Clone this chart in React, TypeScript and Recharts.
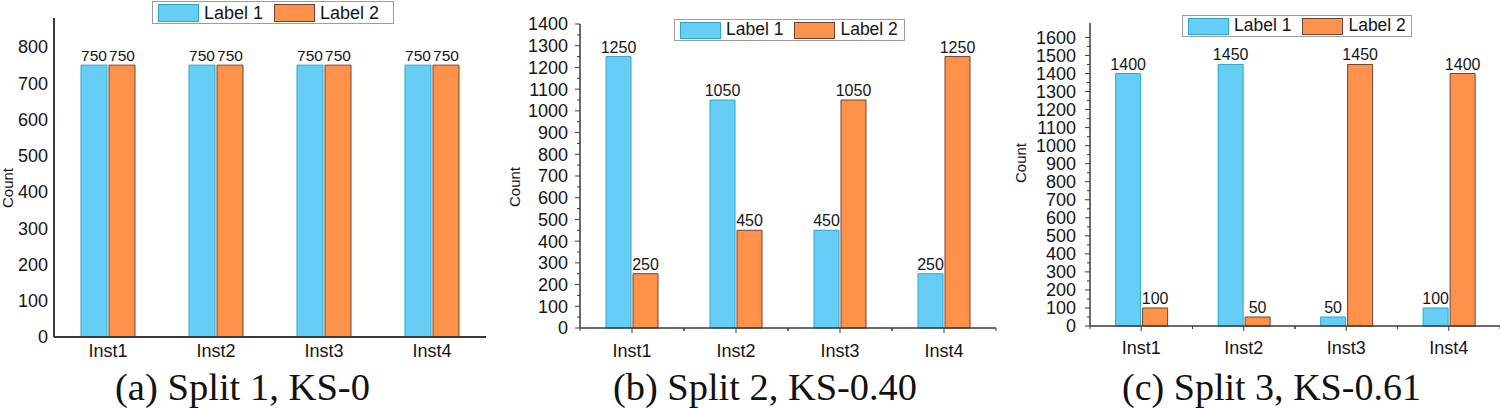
import React from 'react';
import { BarChart, Bar, XAxis, YAxis, Legend, LabelList } from 'recharts';

// ---------- data ----------
const categories = ['Inst1', 'Inst2', 'Inst3', 'Inst4'];
const seriesNames = ['Label 1', 'Label 2'];

const split1Label1 = [750, 750, 750, 750];
const split1Label2 = [750, 750, 750, 750];
const split2Label1 = [1250, 1050, 450, 250];
const split2Label2 = [250, 450, 1050, 1250];
const split3Label1 = [1400, 1450, 50, 100];
const split3Label2 = [100, 50, 1450, 1400];

const split1Ticks = [0, 100, 200, 300, 400, 500, 600, 700, 800];
const split2Ticks = [0, 50, 100, 150, 200, 250, 300, 350, 400, 450, 500, 550, 600, 650, 700, 750, 800, 850, 900, 950, 1000, 1050, 1100, 1150, 1200, 1250, 1300, 1350, 1400];
const split3Ticks = [0, 50, 100, 150, 200, 250, 300, 350, 400, 450, 500, 550, 600, 650, 700, 750, 800, 850, 900, 950, 1000, 1050, 1100, 1150, 1200, 1250, 1300, 1350, 1400, 1450, 1500, 1550, 1600];

const captions = ['(a) Split 1, KS-0', '(b) Split 2, KS-0.40', '(c) Split 3, KS-0.61'];
const yAxisTitle = 'Count';

// ---------- styles ----------
const BLUE = '#66CEF6';
const BLUE_EDGE = '#2FA6C2';
const ORANGE = '#FF914A';
const ORANGE_EDGE = '#6A4633';
const AXIS = '#3a3a3a';
const TEXT = '#151515';
const SANS = '"Liberation Sans", Arial, Helvetica, sans-serif';

const buildRows = (a: number[], b: number[]) =>
  categories.map((c, i) => ({ name: c, l1: a[i], l2: b[i] }));

const panels = [
  {
    rows: buildRows(split1Label1, split1Label2),
    ticks: split1Ticks, domain: [0, 880],
    left: 0, width: 490, yWidth: 54,
    margin: { top: 18, right: 4, left: 0, bottom: 41 },
    minor: false, yGap: 6, xTextOffset: 7, valueFont: 15.5, axisW: 2,
    legend: { left: 152, top: 1, w: 242, h: 23, font: 18 },
    title: { x: 8, y: 188 },
    caption: { x: 242.5, w: 255 },
  },
  {
    rows: buildRows(split2Label1, split2Label2),
    ticks: split2Ticks, domain: [0, 1400],
    left: 500, width: 500, yWidth: 80,
    margin: { top: 24, right: 4, left: 0, bottom: 50 },
    minor: true, yGap: 12, xTextOffset: 16, valueFont: 16, axisW: 1.5,
    legend: { left: 174, top: 19, w: 231, h: 22, font: 17.5 },
    title: { x: 15, y: 187 },
    caption: { x: 765, w: 304 },
  },
  {
    rows: buildRows(split3Label1, split3Label2),
    ticks: split3Ticks, domain: [0, 1680],
    left: 1000, width: 500, yWidth: 90,
    margin: { top: 23, right: 0, left: 0, bottom: 52 },
    minor: true, yGap: 14, xTextOffset: 15, valueFont: 16, axisW: 1.5,
    legend: { left: 182, top: 15, w: 230, h: 22, font: 17.5 },
    title: { x: 21, y: 163 },
    caption: { x: 1271.5, w: 299 },
  },
];

const YTick = (props: any) => {
  const { x, y, payload, minor, gap } = props;
  const v = payload.value as number;
  const major = v % 100 === 0;
  return (
    <g>
      {minor && <line x1={x - (major ? 5 : 3)} x2={x} y1={y} y2={y} stroke={AXIS} strokeWidth={1} />}
      {major && (
        <text x={x - gap} y={y} dy="0.355em" textAnchor="end" fontSize={18} fill={TEXT} fontFamily={SANS}>
          {v}
        </text>
      )}
    </g>
  );
};

const XTick = (props: any) => {
  const { x, y, payload, minor, textOffset, halfBand } = props;
  return (
    <g>
      {minor && (
        <>
          <line x1={x} x2={x} y1={y} y2={y + 5} stroke={AXIS} strokeWidth={1} />
          <line x1={x - halfBand} x2={x - halfBand} y1={y} y2={y + 3} stroke={AXIS} strokeWidth={1} />
          <line x1={x + halfBand} x2={x + halfBand} y1={y} y2={y + 3} stroke={AXIS} strokeWidth={1} />
        </>
      )}
      <text x={x} y={y + textOffset} dy="0.71em" textAnchor="middle" fontSize={18} fill={TEXT} fontFamily={SANS}>
        {payload.value}
      </text>
    </g>
  );
};

const LegendBox = ({ payload, cfg }: any) => {
  const edges = [BLUE_EDGE, ORANGE_EDGE];
  return (
    <div
      style={{
        display: 'flex', alignItems: 'center', boxSizing: 'border-box',
        width: cfg.w, height: cfg.h, border: '1px solid #9c9c9c', background: '#fff',
        padding: '0 5px', fontFamily: SANS, fontSize: cfg.font, color: TEXT, lineHeight: 1,
      }}
    >
      {(payload || []).map((p: any, i: number) => (
        <div key={i} style={{ display: 'flex', alignItems: 'center', marginRight: i === 0 ? 11 : 0 }}>
          <div
            style={{
              width: 41, height: cfg.h - 5, boxSizing: 'border-box',
              background: p.color, border: `1.5px solid ${edges[i]}`,
            }}
          />
          <span style={{ marginLeft: 5 }}>{p.value}</span>
        </div>
      ))}
    </div>
  );
};

const Panel = ({ cfg }: any) => {
  const plotW = cfg.width - cfg.yWidth - cfg.margin.left - cfg.margin.right;
  const halfBand = plotW / categories.length / 2;
  return (
    <div style={{ position: 'absolute', left: cfg.left, top: 0 }}>
      <BarChart
        width={cfg.width}
        height={408}
        data={cfg.rows}
        margin={cfg.margin}
        barCategoryGap="25%"
        barGap={2}
        style={{ fontFamily: SANS }}
      >
        <XAxis
          dataKey="name"
          height={30}
          tickSize={0}
          tickMargin={0}
          tickLine={false}
          interval={0}
          axisLine={{ stroke: AXIS, strokeWidth: cfg.axisW }}
          tick={(p: any) => (
            <XTick {...p} minor={cfg.minor} textOffset={cfg.xTextOffset} halfBand={halfBand} />
          )}
        />
        <YAxis
          type="number"
          width={cfg.yWidth}
          domain={cfg.domain}
          ticks={cfg.ticks}
          interval={0}
          tickSize={0}
          tickMargin={0}
          tickLine={false}
          axisLine={{ stroke: AXIS, strokeWidth: cfg.axisW }}
          tick={(p: any) => <YTick {...p} minor={cfg.minor} gap={cfg.yGap} />}
          label={{
            content: () => (
              <text
                x={cfg.title.x}
                y={cfg.title.y}
                dy="0.35em"
                textAnchor="middle"
                fontSize={15}
                fill={TEXT}
                fontFamily={SANS}
                transform={`rotate(-90, ${cfg.title.x}, ${cfg.title.y})`}
              >
                {yAxisTitle}
              </text>
            ),
          }}
        />
        <Legend
          layout="horizontal"
          verticalAlign="middle"
          align="center"
          wrapperStyle={{ left: cfg.legend.left, top: cfg.legend.top, width: cfg.legend.w, height: cfg.legend.h }}
          content={(p: any) => <LegendBox payload={p.payload} cfg={cfg.legend} />}
        />
        <Bar dataKey="l1" name={seriesNames[0]} fill={BLUE} stroke={BLUE_EDGE} strokeWidth={1} isAnimationActive={false}>
          <LabelList dataKey="l1" position="top" offset={4} fontSize={cfg.valueFont} fill={TEXT} fontFamily={SANS} />
        </Bar>
        <Bar dataKey="l2" name={seriesNames[1]} fill={ORANGE} stroke={ORANGE_EDGE} strokeWidth={1} isAnimationActive={false}>
          <LabelList dataKey="l2" position="top" offset={4} fontSize={cfg.valueFont} fill={TEXT} fontFamily={SANS} />
        </Bar>
      </BarChart>
    </div>
  );
};

export default function App() {
  return (
    <div style={{ position: 'absolute', left: 0, top: 0, width: 1500, height: 408, background: '#fff', overflow: 'hidden' }}>
      {panels.map((cfg, i) => (
        <Panel key={i} cfg={cfg} />
      ))}
      <svg width={1500} height={408} style={{ position: 'absolute', left: 0, top: 0, pointerEvents: 'none' }}>
        {panels.map((cfg, i) => (
          <text
            key={i}
            x={cfg.caption.x}
            y={400}
            textAnchor="middle"
            fontSize={37}
            fill="#111"
            fontFamily='"Liberation Serif", "DejaVu Serif", serif'
            textLength={cfg.caption.w}
            lengthAdjust="spacingAndGlyphs"
          >
            {captions[i]}
          </text>
        ))}
      </svg>
    </div>
  );
}
